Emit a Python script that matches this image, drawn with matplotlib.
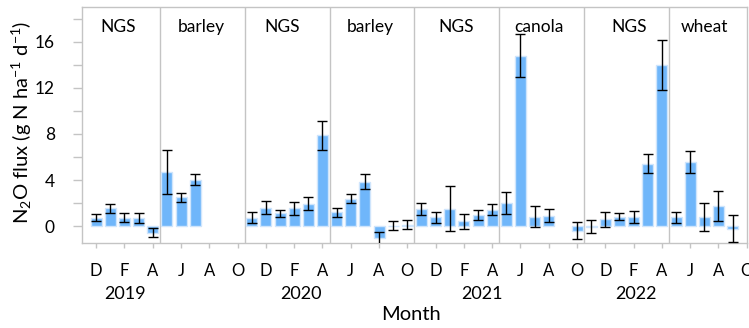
import numpy as np
import matplotlib
matplotlib.use("Agg")
import matplotlib.pyplot as plt
from matplotlib.ticker import FixedLocator

plt.rcParams['font.family'] = ['Lato', 'DejaVu Sans']
plt.rcParams['mathtext.fontset'] = 'custom'
plt.rcParams['mathtext.rm'] = 'Lato'
plt.rcParams['mathtext.it'] = 'Lato:italic'

# Monthly categories, Nov 2018 .. Oct 2022
months = [
    "2018-11", "2018-12", "2019-01", "2019-02", "2019-03", "2019-04",
    "2019-05", "2019-06", "2019-07", "2019-08", "2019-09", "2019-10",
    "2019-11", "2019-12", "2020-01", "2020-02", "2020-03", "2020-04",
    "2020-05", "2020-06", "2020-07", "2020-08", "2020-09", "2020-10",
    "2020-11", "2020-12", "2021-01", "2021-02", "2021-03", "2021-04",
    "2021-05", "2021-06", "2021-07", "2021-08", "2021-09", "2021-10",
    "2021-11", "2021-12", "2022-01", "2022-02", "2022-03", "2022-04",
    "2022-05", "2022-06", "2022-07", "2022-08", "2022-09", "2022-10",
]

# Mean monthly N2O flux (g N ha-1 d-1); nan = no measurement
flux = [
    np.nan, 0.75, 1.55, 0.75, 0.70, -0.55,
    4.70, 2.50, 4.05, np.nan, np.nan, np.nan,
    0.75, 1.63, 1.15, 1.55, 1.95, 7.90,
    1.20, 2.40, 3.85, -1.05, 0.07, 0.15,
    1.50, 0.78, 1.54, 0.42, 0.98, 1.45,
    2.00, 14.80, 0.85, 0.93, np.nan, -0.38,
    -0.03, 0.60, 0.85, 0.80, 5.42, 14.00,
    0.78, 5.60, 0.83, 1.77, -0.20, np.nan,
]

# Standard error of the monthly mean
flux_err = [
    np.nan, 0.30, 0.40, 0.40, 0.42, 0.40,
    1.93, 0.42, 0.45, np.nan, np.nan, np.nan,
    0.48, 0.60, 0.30, 0.55, 0.55, 1.25,
    0.40, 0.40, 0.65, 0.60, 0.40, 0.37,
    0.55, 0.50, 1.95, 0.62, 0.45, 0.45,
    0.95, 1.85, 0.95, 0.57, np.nan, 0.74,
    0.59, 0.66, 0.28, 0.55, 0.83, 2.15,
    0.50, 0.95, 1.20, 1.30, 1.20, np.nan,
]

# Crop periods: label, first month index, label position
period_labels = ["NGS", "barley", "NGS", "barley", "NGS", "canola", "NGS", "wheat"]
period_starts = [0, 6, 12, 18, 24, 30, 36, 42]
period_label_pos = [2.57, 8.46, 14.18, 20.4, 26.48, 32.3, 38.7, 44.0]

month_tick_labels = ["D", "F", "A", "J", "A", "O"] * 4
years = ["2019", "2020", "2021", "2022"]
year_label_pos = [3.05, 15.5, 28.3, 39.2]

x = np.arange(len(months))
flux_arr = np.array(flux, dtype=float)
err_arr = np.array(flux_err, dtype=float)

fig = plt.figure(figsize=(7.49, 3.28), dpi=100)
ax = fig.add_axes([0.1095, 0.259, 0.8875, 0.7195])

bar_color = "#6fb6fa"
edge_color = "#cfe5fc"
grey = "#c4c4c4"

ax.bar(x, flux_arr, width=0.78, color=bar_color, edgecolor=edge_color,
       linewidth=1.0, zorder=2)
ax.errorbar(x, flux_arr, yerr=err_arr, fmt="none", ecolor="black",
            elinewidth=1.0, capsize=3.6, capthick=1.0, zorder=3)

# Period dividers
for s in period_starts[1:]:
    ax.axvline(s - 0.5, color=grey, linewidth=1.0, zorder=1)

for lab, pos in zip(period_labels, period_label_pos):
    ax.text(pos, 17.25, lab, ha="center", va="center", fontsize=12.5)

ax.set_xlim(0, len(months) - 1)
ax.set_ylim(-1.45, 19.0)

ax.yaxis.set_major_locator(FixedLocator([0, 4, 8, 12, 16]))
ax.yaxis.set_minor_locator(FixedLocator([2, 6, 10, 14, 18]))
ax.tick_params(axis="y", which="both", direction="out", length=6.5,
               width=1.0, color=grey, labelsize=12.5, pad=13)

ax.xaxis.set_major_locator(FixedLocator(x[1::2]))
ax.set_xticklabels(month_tick_labels)
ax.tick_params(axis="x", which="major", direction="out", length=3.5,
               width=1.0, color=grey, labelsize=12, pad=11)

for sp in ax.spines.values():
    sp.set_color(grey)
    sp.set_linewidth(1.0)

for yr, pos in zip(years, year_label_pos):
    ax.text(pos, -0.216, yr, transform=ax.get_xaxis_transform(),
            ha="center", va="center", fontsize=13)

fig.text(411 / 749, 1 - 314 / 328, "Month", ha="center", va="center", fontsize=14.5)
fig.text(22 / 749, 1 - 122 / 328, r"N$_2$O flux (g N ha$^{-1}$ d$^{-1}$)",
         ha="center", va="center", rotation=90, fontsize=14.5)

fig.savefig("out.png", dpi=100)
